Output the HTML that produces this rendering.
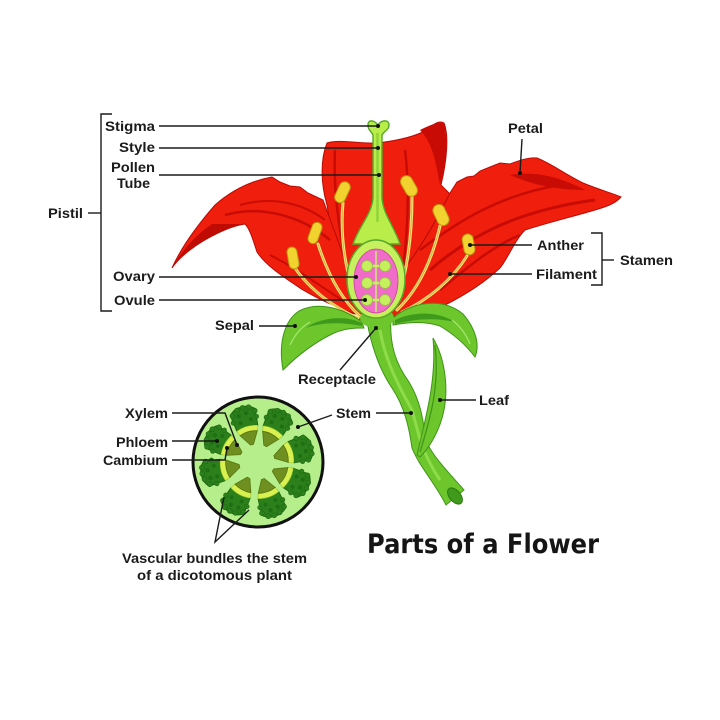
<!DOCTYPE html>
<html><head><meta charset="utf-8"><style>
html,body{margin:0;padding:0;background:#fff;}
svg{display:block;}
.l{font-family:"Liberation Sans",Arial,sans-serif;font-weight:bold;font-size:14px;fill:#1b1b1b;}
.ln{stroke:#1b1b1b;stroke-width:1.4;fill:none;}
</style></head><body>
<svg width="720" height="720" viewBox="0 0 720 720" xmlns="http://www.w3.org/2000/svg">
<rect width="720" height="720" fill="#fff"/>
<defs>
<g id="bundle">
  <path d="M-11,-35 L-13,-52 Q-7,-58 0,-57 Q7,-58 13,-52 L11,-35 Q0,-38 -11,-35 Z" fill="#2b801b" stroke="#1c6310" stroke-width="0.8"/>
  <g fill="#2b801b" stroke="#1c6310" stroke-width="0.5">
    <circle cx="-11" cy="-51" r="2.5"/><circle cx="-5" cy="-55" r="2.5"/><circle cx="1" cy="-56" r="2.5"/><circle cx="7" cy="-55" r="2.5"/><circle cx="12" cy="-50" r="2.5"/>
    <circle cx="-12" cy="-44" r="2.3"/><circle cx="12" cy="-44" r="2.3"/>
  </g>
  <g fill="#1f6e14">
    <circle cx="-5" cy="-49" r="2.2"/><circle cx="3" cy="-50" r="2.2"/><circle cx="6" cy="-43" r="2"/>
    <circle cx="-5" cy="-42" r="2"/>
  </g>
  <path d="M-11,-35 Q0,-39 11,-35 L9,-30 Q0,-33 -9,-30 Z" fill="#d8f050" stroke="#9cc630" stroke-width="0.6"/>
  <path d="M-9,-30 Q0,-33 9,-30 L1.5,-18 L-1.5,-18 Z" fill="#6f9020" stroke="#56740f" stroke-width="0.8"/>
</g>
</defs>

<!-- center back petal -->
<path d="M327,205 C321,185 320,160 327,143 C340,139 360,144 377,143 C395,141 414,137 427,130 C433,124 439,120 444,123 C449,135 447,160 441,185 L452,196 L420,312 L345,314 Z" fill="#f01e0c" stroke="#b80a04" stroke-width="1"/>
<path d="M420,130 C432,124 440,121 444,124 C448,140 446,165 440,185 C436,165 434,145 420,130 Z" fill="#c80c05"/>
<path d="M335,150 C333,190 340,240 352,290" stroke="#c80c05" stroke-width="2.5" fill="none"/>
<path d="M405,150 C410,190 408,240 400,290" stroke="#c80c05" stroke-width="2.5" fill="none"/>

<!-- left petal -->
<path d="M172,268 C180,250 195,228 215,205 C232,190 250,181 272,177 L280,182 L290,186 L300,187 L308,193 L323,200 L345,260 L362,316 C340,309 320,300 303,290 C285,278 266,266 257,252 C253,240 250,229 245,224 C230,226 205,238 190,250 C182,256 176,262 172,268 Z" fill="#f01e0c" stroke="#b80a04" stroke-width="1"/>
<path d="M172,268 C182,250 197,234 212,224 L246,224 C230,226 205,238 190,250 C182,256 176,262 172,268 Z" fill="#c00a04"/>
<path d="M225,215 C260,205 300,215 330,240" stroke="#c80c05" stroke-width="2.5" fill="none"/>
<path d="M240,205 C275,195 305,205 325,220" stroke="#c80c05" stroke-width="2" fill="none"/>
<path d="M270,255 C300,270 325,290 350,305" stroke="#c80c05" stroke-width="2" fill="none"/>

<!-- right petal -->
<path d="M358,318 C392,290 422,250 450,193 L457,182 L467,177 L474,176 L480,171 L490,167 L500,163 L510,164 C520,160 530,157 537,158 C550,163 565,174 583,183 C600,190 612,193 621,197 C615,204 605,207 595,210 C575,216 550,222 525,230 C515,240 508,258 500,268 C485,282 465,295 445,305 C420,313 390,318 358,320 Z" fill="#f01e0c" stroke="#b80a04" stroke-width="1"/>
<path d="M430,270 C470,235 520,210 595,200" stroke="#c80c05" stroke-width="3" fill="none"/>
<path d="M420,250 C460,220 500,195 560,185" stroke="#c80c05" stroke-width="2.5" fill="none"/>
<path d="M440,290 C470,265 495,245 520,235" stroke="#c80c05" stroke-width="2.5" fill="none"/>
<path d="M510,175 C540,170 565,180 585,190 C560,190 535,186 510,175 Z" fill="#c80c05"/>

<!-- filaments -->
<g fill="none" stroke="#f3e27a" stroke-width="3" stroke-linecap="round">
<path d="M295,268 C310,290 335,308 358,318"/>
<path d="M318,244 C328,275 342,300 360,316"/>
<path d="M343,203 C340,235 345,270 356,300"/>
<path d="M412,197 C412,240 406,275 398,298"/>
<path d="M440,226 C432,260 418,290 397,310"/>
<path d="M467,256 C452,280 428,300 402,312"/>
</g>
<g fill="none" stroke="#c9a820" stroke-width="0.7">
<path d="M295,268 C310,290 335,308 358,318"/>
<path d="M318,244 C328,275 342,300 360,316"/>
<path d="M343,203 C340,235 345,270 356,300"/>
<path d="M412,197 C412,240 406,275 398,298"/>
<path d="M440,226 C432,260 418,290 397,310"/>
<path d="M467,256 C452,280 428,300 402,312"/>
</g>
<!-- anthers -->
<g fill="#f2d22e" stroke="#b89a10" stroke-width="1">
<rect x="288" y="247" width="10" height="22" rx="5" transform="rotate(-10 293 258)"/>
<rect x="310" y="222" width="10" height="22" rx="5" transform="rotate(20 315 233)"/>
<rect x="337" y="181" width="11" height="22" rx="5.5" transform="rotate(25 342 192)"/>
<rect x="403" y="175" width="12" height="22" rx="6" transform="rotate(-30 409 186)"/>
<rect x="435" y="204" width="12" height="22" rx="6" transform="rotate(-25 441 215)"/>
<rect x="463" y="234" width="11" height="21" rx="5.5" transform="rotate(-10 468 244)"/>
</g>

<!-- stem -->
<path d="M366,316 C370,340 377,366 392,388 C404,406 409,426 412,448 C419,466 435,483 446,505 L464,490 C451,475 431,455 426,440 C423,420 421,402 409,382 C396,364 389,345 391,316 Z" fill="#6cc62c" stroke="#3f9418" stroke-width="1"/>
<path d="M380,330 C385,360 398,385 412,410 C418,430 420,450 440,480" stroke="#8fdc4a" stroke-width="3" fill="none"/>
<ellipse cx="455" cy="496" rx="5.5" ry="9.5" transform="rotate(-40 455 496)" fill="#3f9a1c" stroke="#2d7a12" stroke-width="1"/>
<!-- leaf -->
<path d="M417,455 C425,420 437,380 433,338 C446,360 448,390 444,410 C440,430 430,447 420,457 Z" fill="#6cc62c" stroke="#3f9418" stroke-width="1"/>
<path d="M420,452 C430,420 440,385 435,345" stroke="#3f9418" stroke-width="1.2" fill="none"/>

<!-- sepals -->
<path d="M362,322 C340,306 316,302 299,311 C285,320 278,342 283,370 C295,358 313,343 334,333 C346,328 356,328 364,328 Z" fill="#6cc62c" stroke="#3f9418" stroke-width="1"/>
<path d="M362,323 C345,315 322,317 305,328 C322,322 342,322 362,326 Z" fill="#3f9a1c"/>
<path d="M290,345 C295,335 300,328 310,322" stroke="#a8e870" stroke-width="1.2" fill="none"/>
<path d="M393,318 C410,303 441,296 463,314 C476,329 480,345 475,357 C466,345 455,335 440,326 C425,321 410,322 393,325 Z" fill="#6cc62c" stroke="#3f9418" stroke-width="1"/>
<path d="M395,320 C412,312 435,310 455,322 C438,318 418,318 395,324 Z" fill="#3f9a1c"/>
<path d="M452,320 C460,326 466,334 470,344" stroke="#a8e870" stroke-width="1.2" fill="none"/>
<ellipse cx="377" cy="318" rx="17" ry="10" fill="#6cc62c"/>

<!-- style / stigma -->
<path d="M368,125 C368,119 374,120 378,125 C381,120 389,119 389,125 C389,130 384,131 382,135 L382,198 C383,214 394,226 400,244 L353,244 C359,226 372,214 373,198 L373,135 C371,131 368,130 368,125 Z" fill="#b9ee4a" stroke="#56a82a" stroke-width="1.4"/>
<path d="M377.5,133 L377.5,222" stroke="#8fd43a" stroke-width="2.5"/>
<!-- ovary -->
<ellipse cx="376" cy="279" rx="29" ry="39" fill="#c6f05e" stroke="#56a82a" stroke-width="1.5"/>
<ellipse cx="376" cy="281" rx="22" ry="32" fill="#f06cc8" stroke="#c8409a" stroke-width="0.8"/>
<line x1="376" y1="251" x2="376" y2="312" stroke="#c8f06a" stroke-width="1.5"/>
<g fill="#c6f05e" stroke="#8cc83a" stroke-width="0.8">
<path d="M372,266 L380,266 M372,283 L380,283 M372,300 L380,300" stroke="#c6f05e" stroke-width="2.5"/>
<circle cx="367" cy="266" r="5.5"/><circle cx="385" cy="266" r="5.5"/>
<circle cx="367" cy="283" r="5.5"/><circle cx="385" cy="283" r="5.5"/>
<circle cx="367" cy="300" r="5.5"/><circle cx="385" cy="300" r="5.5"/>
</g>

<!-- cross-section -->
<circle cx="258" cy="462" r="65" fill="#b5ee8a" stroke="#111" stroke-width="3"/>
<use href="#bundle" transform="translate(257 462) rotate(-61)"/>
<use href="#bundle" transform="translate(257 462) rotate(-16)"/>
<use href="#bundle" transform="translate(257 462) rotate(27)"/>
<use href="#bundle" transform="translate(257 462) rotate(74)"/>
<use href="#bundle" transform="translate(257 462) rotate(117)"/>
<use href="#bundle" transform="translate(257 462) rotate(161)"/>
<use href="#bundle" transform="translate(257 462) rotate(208)"/>
<use href="#bundle" transform="translate(257 462) rotate(257)"/>

<!-- leader lines -->
<g class="ln">
<path d="M112,114 L101,114 L101,311 L112,311"/>
<path d="M88,213 L101,213"/>
<path d="M159,126 L378,126"/>
<path d="M159,148 L378,148"/>
<path d="M159,175 L379,175"/>
<path d="M159,277 L356,277"/>
<path d="M159,300 L365,300"/>
<path d="M259,326 L295,326"/>
<path d="M340,370 L376,328"/>
<path d="M376,413 L411,413"/>
<path d="M332,415 L298,427"/>
<path d="M440,400 L476,400"/>
<path d="M522,139 L520,173"/>
<path d="M470,245 L532,245"/>
<path d="M450,274 L532,274"/>
<path d="M591,233 L602,233 L602,285 L591,285"/>
<path d="M602,260 L614,260"/>
<path d="M172,413 L225,413 L237,445"/>
<path d="M172,441 L217,441"/>
<path d="M172,460 L225,460 L227,448"/>
<path d="M224,497 L215,542 L249,510"/>
</g>
<g fill="#111">
<circle cx="378" cy="126" r="2"/><circle cx="378" cy="148" r="2"/><circle cx="379" cy="175" r="2"/>
<circle cx="356" cy="277" r="2"/><circle cx="365" cy="300" r="2"/><circle cx="295" cy="326" r="2"/>
<circle cx="376" cy="328" r="2"/><circle cx="411" cy="413" r="2"/><circle cx="298" cy="427" r="2"/>
<circle cx="440" cy="400" r="2"/><circle cx="520" cy="173" r="2"/><circle cx="470" cy="245" r="2"/>
<circle cx="450" cy="274" r="2"/><circle cx="237" cy="445" r="2"/><circle cx="217" cy="441" r="2"/><circle cx="227" cy="448" r="2"/>
</g>

<!-- labels -->
<text class="l" x="105" y="131" textLength="50" lengthAdjust="spacingAndGlyphs">Stigma</text>
<text class="l" x="119" y="152" textLength="36" lengthAdjust="spacingAndGlyphs">Style</text>
<text class="l" x="111" y="172" textLength="44" lengthAdjust="spacingAndGlyphs">Pollen</text>
<text class="l" x="117" y="188" textLength="33" lengthAdjust="spacingAndGlyphs">Tube</text>
<text class="l" x="48" y="218" textLength="35" lengthAdjust="spacingAndGlyphs">Pistil</text>
<text class="l" x="113" y="281" textLength="42" lengthAdjust="spacingAndGlyphs">Ovary</text>
<text class="l" x="114" y="305" textLength="41" lengthAdjust="spacingAndGlyphs">Ovule</text>
<text class="l" x="215" y="330" textLength="39" lengthAdjust="spacingAndGlyphs">Sepal</text>
<text class="l" x="298" y="384" textLength="78" lengthAdjust="spacingAndGlyphs">Receptacle</text>
<text class="l" x="336" y="418" textLength="35" lengthAdjust="spacingAndGlyphs">Stem</text>
<text class="l" x="479" y="405" textLength="30" lengthAdjust="spacingAndGlyphs">Leaf</text>
<text class="l" x="508" y="133" textLength="35" lengthAdjust="spacingAndGlyphs">Petal</text>
<text class="l" x="537" y="250" textLength="47" lengthAdjust="spacingAndGlyphs">Anther</text>
<text class="l" x="536" y="279" textLength="61" lengthAdjust="spacingAndGlyphs">Filament</text>
<text class="l" x="620" y="265" textLength="53" lengthAdjust="spacingAndGlyphs">Stamen</text>
<text class="l" x="125" y="418" textLength="43" lengthAdjust="spacingAndGlyphs">Xylem</text>
<text class="l" x="116" y="447" textLength="52" lengthAdjust="spacingAndGlyphs">Phloem</text>
<text class="l" x="103" y="465" textLength="65" lengthAdjust="spacingAndGlyphs">Cambium</text>
<text class="l" x="122" y="563" textLength="185" lengthAdjust="spacingAndGlyphs">Vascular bundles the stem</text>
<text class="l" x="137" y="580" textLength="155" lengthAdjust="spacingAndGlyphs">of a dicotomous plant</text>
<text x="367" y="553" textLength="232" lengthAdjust="spacingAndGlyphs" style="font-family:'DejaVu Sans','Liberation Sans',sans-serif;font-weight:bold;font-size:27px;fill:#151515;">Parts of a Flower</text>
</svg>
</body></html>
